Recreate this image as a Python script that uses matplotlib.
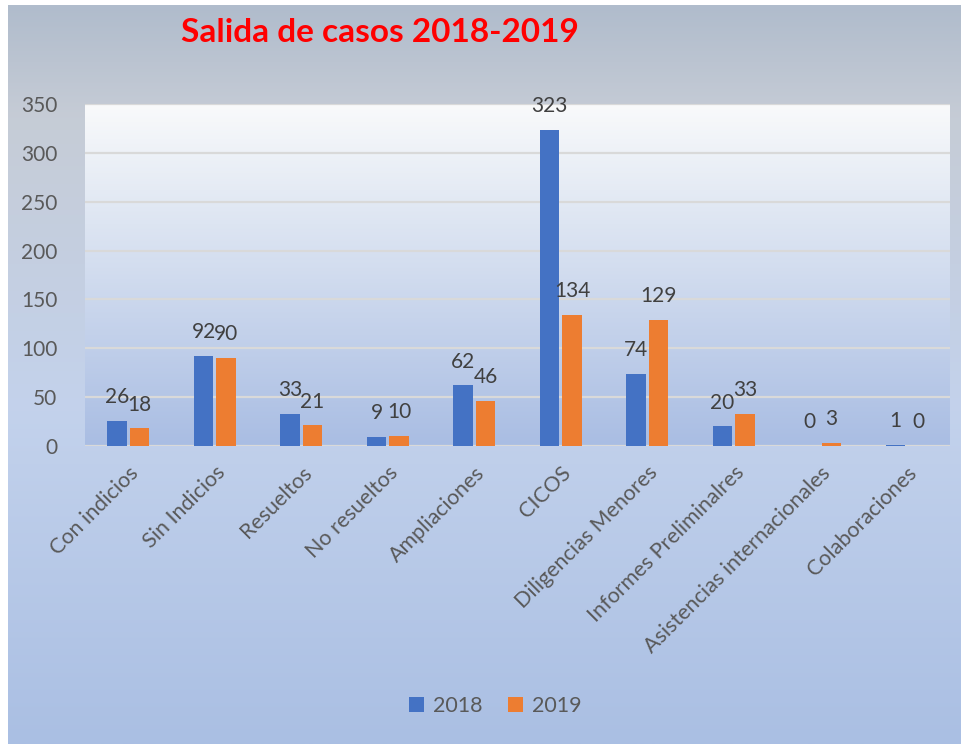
import matplotlib.pyplot as plt
from matplotlib.colors import LinearSegmentedColormap
import numpy as np

categories = ["Con indicios", "Sin Indicios", "Resueltos", "No resueltos",
              "Ampliaciones", "CICOS", "Diligencias Menores",
              "Informes Preliminalres", "Asistencias internacionales",
              "Colaboraciones"]
values_2018 = [26, 92, 33, 9, 62, 323, 74, 20, 0, 1]
values_2019 = [18, 90, 21, 10, 46, 134, 129, 33, 3, 0]
yticks = [0, 50, 100, 150, 200, 250, 300, 350]

blue = '#4472C4'
orange = '#ED7D31'
grey_text = '#595959'

plt.rcParams['font.family'] = ['Lato', 'DejaVu Sans']

fig = plt.figure(figsize=(9.65, 7.44), dpi=100)
fig.patch.set_facecolor('white')

# outer chart background (vertical gradient)
bg = fig.add_axes([8/965, 0, 1 - 13/965, 1 - 5/744], zorder=-10)
bg_cmap = LinearSegmentedColormap.from_list('bg', [
  (0.0, '#b0bccc'), (0.15, '#c6ccd6'), (0.55, '#c3d2ec'), (1.0, '#aabfe3')])
bg.imshow(np.linspace(0, 1, 256).reshape(-1, 1), aspect='auto', cmap=bg_cmap,
          extent=[0, 1, 0, 1], origin='upper')
bg.set_axis_off()

ax = fig.add_axes([85/965, 1 - 446/744, 865/965, 342/744])
ax.patch.set_alpha(0)

x = np.arange(len(categories))
w = 0.23
gap = 0.03

# plot area gradient
pa_cmap = LinearSegmentedColormap.from_list('pa', [
  (0.0, '#f9fafb'), (0.35, '#dde5f2'), (1.0, '#a9bde3')])
ax.imshow(np.linspace(0, 1, 256).reshape(-1, 1), aspect='auto', cmap=pa_cmap,
          extent=[-0.5, len(categories) - 0.5, 0, 350], origin='upper', zorder=0)

for t in yticks:
  ax.axhline(t, color='#d9d9d9', lw=1.6, zorder=1)

b1 = ax.bar(x - (w + gap) / 2, values_2018, w, color=blue, zorder=3, label='2018')
b2 = ax.bar(x + (w + gap) / 2, values_2019, w, color=orange, zorder=3, label='2019')

for bars, vals in [(b1, values_2018), (b2, values_2019)]:
  for bar, v in zip(bars, vals):
    ax.annotate(str(v), (bar.get_x() + bar.get_width() / 2, v),
                xytext=(0, 10), textcoords='offset points',
                ha='center', va='bottom', fontsize=15, color='#404040')

ax.set_xlim(-0.5, len(categories) - 0.5)
ax.set_ylim(0, 350)
ax.set_yticks(yticks)
ax.set_xticks(x)
ax.set_xticklabels(categories, rotation=45, ha='right', rotation_mode='anchor')
ax.tick_params(axis='both', length=0, labelcolor=grey_text)
ax.tick_params(axis='y', pad=20, labelsize=15)
ax.tick_params(axis='x', pad=12, labelsize=15.5)
for s in ax.spines.values():
  s.set_visible(False)

fig.text(380/965, 1 - 33/744, 'Salida de casos 2018-2019', color='#ff0000',
         fontsize=24, fontweight='bold', ha='center', va='center')

fig.legend(handles=[b1, b2], labels=['2018', '2019'], loc='center',
           bbox_to_anchor=(495/965, 1 - 706/744), ncol=2, frameon=False,
           fontsize=15.5, labelcolor=grey_text, handlelength=0.7, handleheight=0.7,
           handletextpad=0.4, columnspacing=1.2)

fig.savefig('out.png', dpi=100)
